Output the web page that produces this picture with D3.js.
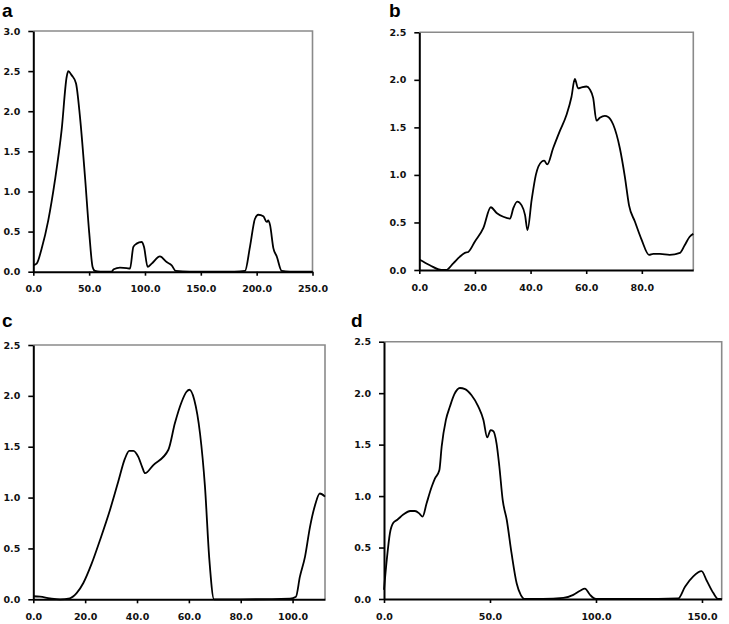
<!DOCTYPE html>
<html>
<head>
<meta charset="utf-8">
<script src="https://cdn.jsdelivr.net/npm/d3@7/dist/d3.min.js"></script>
<style>
  html, body { margin: 0; padding: 0; background: #fff; }
  svg { display: block; }
  .tick text { font-family: "DejaVu Sans", sans-serif; font-weight: bold; font-size: 9.5px; fill: #111; }
  .plabel { font-family: "Liberation Sans", Arial, sans-serif; font-weight: bold; font-size: 19px; fill: #000; }
</style>
</head>
<body>
<svg id="chart" width="729" height="624"></svg>
<script>
// ---- Data ----
const panelLabels = ["a", "b", "c", "d"];

const aX = [0, 3, 7.5, 13.4, 19.4, 25.4, 29.9, 31.3, 34.3, 38.2, 41.8, 46.3, 50.1, 53.1, 55.2,
            60, 70, 72, 77.6, 83.6, 86.6, 89.6, 92.5, 97, 99.1, 102.4, 106, 113.4, 119.4, 123.9, 127.5,
            140, 180, 189.6, 194, 198.5, 201.5, 206, 209, 210.4, 212, 215, 218, 222.4, 230, 250];
const aY = [0.08, 0.1, 0.29, 0.64, 1.14, 1.77, 2.43, 2.5, 2.45, 2.35, 1.93, 1.18, 0.48, 0.06, 0.01,
            0, 0, 0.03, 0.05, 0.045, 0.04, 0.31, 0.35, 0.37, 0.31, 0.06, 0.1, 0.19, 0.12, 0.08, 0.01,
            0, 0, 0.01, 0.31, 0.66, 0.71, 0.69, 0.62, 0.64, 0.58, 0.29, 0.19, 0.01, 0, 0];

const bX = [0, 3.8, 8, 9.6, 12.2, 14.6, 16.4, 17.6, 20, 23, 25.7, 27.8, 30.2, 32.6, 33.8, 35.2, 36.8, 38, 38.9,
            40.4, 41.9, 44, 44.9, 46, 48.1, 50.5, 52.9, 54.7, 55.9, 57.1, 58.3, 60.1, 61.3, 62.5, 63.7,
            64.9, 66.7, 67.9, 69.7, 72.1, 73.9, 75.4, 77.5, 79.9, 82.6, 84.1, 86.5, 90, 93.7, 95.4, 97.2, 98.5];
const bY = [0.11, 0.05, 0.0, 0.0, 0.07, 0.14, 0.18, 0.19, 0.3, 0.44, 0.66, 0.6, 0.56, 0.54, 0.65, 0.72, 0.68, 0.58, 0.42,
            0.74, 1.0, 1.14, 1.15, 1.11, 1.28, 1.46, 1.63, 1.82, 2.01, 1.91, 1.92, 1.93, 1.9, 1.81, 1.57,
            1.6, 1.62, 1.61, 1.53, 1.28, 0.98, 0.68, 0.51, 0.32, 0.16, 0.17, 0.17, 0.16, 0.18, 0.26, 0.35, 0.38];

const cX = [0, 2.6, 6.4, 10.3, 14.1, 16.7, 19.3, 22.5, 25.7, 29.6, 32.8, 35.3, 37, 38.6, 40.5, 42, 43.1,
            46.3, 52.1, 54.6, 57.2, 59.1, 60.2, 62.1, 64.3, 66.2, 67.9, 69.7, 80, 99, 101.3, 102.8, 104.8,
            106.7, 108.6, 110.5, 112.5];
const cY = [0.03, 0.026, 0.01, 0, 0.01, 0.06, 0.16, 0.35, 0.58, 0.88, 1.16, 1.38, 1.46, 1.46, 1.4, 1.3, 1.24,
            1.32, 1.47, 1.73, 1.94, 2.04, 2.06, 1.96, 1.63, 1.11, 0.39, 0, 0, 0.007, 0.026, 0.22, 0.42,
            0.71, 0.92, 1.04, 1.01];

const dX = [0, 1.3, 2.8, 4.4, 6.3, 9.1, 12.3, 14.6, 16.7, 18.2, 20.1, 22.5, 24, 26.1, 27.2, 29.2, 31.1, 33.2,
            35.8, 38.2, 41.3, 44.5, 46.9, 48.7, 50.3, 51.6, 53.1, 54.4, 56, 57.9, 60.2, 62.6, 64.5, 66.5,
            75, 84.6, 89.3, 92.5, 94.8, 97.2, 100, 120, 138.8, 142, 145.9, 149.8, 152.2, 155.3, 157.7, 159.3];
const dY = [0.09, 0.38, 0.64, 0.74, 0.77, 0.82, 0.855, 0.855, 0.83, 0.8, 0.93, 1.09, 1.17, 1.25, 1.48, 1.74, 1.87, 1.99,
            2.05, 2.04, 1.98, 1.87, 1.74, 1.57, 1.64, 1.63, 1.51, 1.29, 0.96, 0.77, 0.44, 0.15, 0.04, 0,
            0, 0.01, 0.04, 0.08, 0.1, 0.04, 0, 0, 0.006, 0.12, 0.22, 0.27, 0.18, 0.06, 0, 0];

const aXTicks = [0, 50, 100, 150, 200, 250];
const bXTicks = [0, 20, 40, 60, 80];
const cXTicks = [0, 20, 40, 60, 80, 100];
const dXTicks = [0, 50, 100, 150];
const aYTicks = [0, 0.5, 1.0, 1.5, 2.0, 2.5, 3.0];
const bcdYTicks = [0, 0.5, 1.0, 1.5, 2.0, 2.5];

const aXMax = 250, bXMax = 98.5, cXMax = 112.5, dXMax = 159.3;
const aYMax = 3.0, bcdYMax = 2.5;

// ---- Layout ----
const panels = [
  { label: panelLabels[0], xs: aX, ys: aY, xMax: aXMax, yMax: aYMax, xTicks: aXTicks, yTicks: aYTicks,
    box: { l: 33.3, r: 312.5, t: 31, b: 271.7 }, lab: { x: 2, y: 17 } },
  { label: panelLabels[1], xs: bX, ys: bY, xMax: bXMax, yMax: bcdYMax, xTicks: bXTicks, yTicks: bcdYTicks,
    box: { l: 419.3, r: 693.3, t: 32.3, b: 270 }, lab: { x: 389, y: 17 } },
  { label: panelLabels[2], xs: cX, ys: cY, xMax: cXMax, yMax: bcdYMax, xTicks: cXTicks, yTicks: bcdYTicks,
    box: { l: 33.3, r: 325, t: 345, b: 599.3 }, lab: { x: 2, y: 327 } },
  { label: panelLabels[3], xs: dX, ys: dY, xMax: dXMax, yMax: bcdYMax, xTicks: dXTicks, yTicks: bcdYTicks,
    box: { l: 384, r: 721.7, t: 341.7, b: 599 }, lab: { x: 351, y: 327 } }
];

const svg = d3.select("#chart");
const fmt = d3.format(".1f");

panels.forEach(p => {
  const g = svg.append("g");
  const x = d3.scaleLinear().domain([0, p.xMax]).range([p.box.l, p.box.r]);
  const y = d3.scaleLinear().domain([0, p.yMax]).range([p.box.b, p.box.t]);

  // gray frame (top & right)
  g.append("path")
    .attr("d", `M${p.box.l},${p.box.t}H${p.box.r}V${p.box.b}`)
    .attr("fill", "none").attr("stroke", "#8a8a8a").attr("stroke-width", 1.6);

  // data line
  const pts = p.xs.map((v, i) => [v, p.ys[i]]);
  g.append("path")
    .datum(pts)
    .attr("fill", "none").attr("stroke", "#000").attr("stroke-width", 1.8)
    .attr("stroke-linejoin", "round")
    .attr("d", d3.line().x(d => x(d[0])).y(d => y(d[1])).curve(d3.curveMonotoneX));

  // axes
  const xAxis = d3.axisBottom(x).tickValues(p.xTicks).tickFormat(fmt).tickSize(4).tickPadding(10).tickSizeOuter(0);
  const yAxis = d3.axisLeft(y).tickValues(p.yTicks).tickFormat(fmt).tickSize(5).tickPadding(8).tickSizeOuter(0);

  const gx = g.append("g").attr("transform", `translate(0,${p.box.b})`).call(xAxis);
  const gy = g.append("g").attr("transform", `translate(${p.box.l},0)`).call(yAxis);
  [gx, gy].forEach(a => {
    a.select(".domain").attr("stroke", "#000").attr("stroke-width", 2);
    a.selectAll(".tick line").attr("stroke", "#000").attr("stroke-width", 1.6);
  });

  g.append("text").attr("class", "plabel").attr("x", p.lab.x).attr("y", p.lab.y).text(p.label);
});
</script>
</body>
</html>
